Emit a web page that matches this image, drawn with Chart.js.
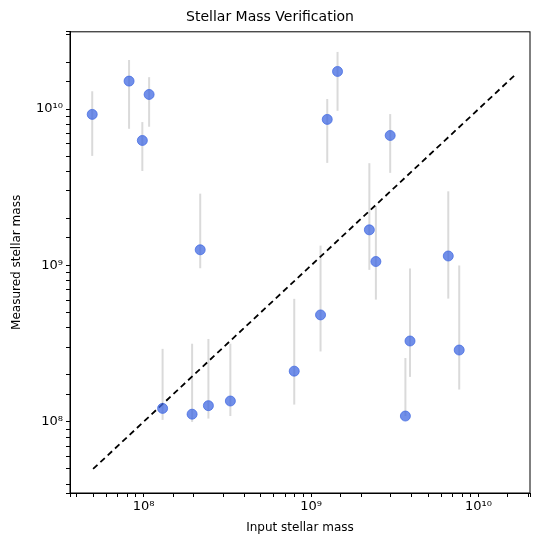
<!DOCTYPE html>
<html><head><meta charset="utf-8">
<script src="https://cdn.jsdelivr.net/npm/chart.js@4/dist/chart.umd.min.js"></script>
<style>html,body{margin:0;padding:0;background:#fff}#wrap{width:545px;height:549px}</style>
</head><body><div id="wrap"><canvas id="c"></canvas></div>
<script>
const inputMass = [4.94e7,8.2e7,1.08e8,9.84e7,2.18e8,1.44e9,1.25e9,2.97e9,2.23e9,2.44e9,6.6e9,1.30e8,1.95e8,2.44e8,3.30e8,7.94e8,1.14e9,3.90e9,3.66e9,7.67e9];
const measuredMass = [9.25e9,1.51e10,1.24e10,6.30e9,1.26e9,1.74e10,8.59e9,6.78e9,1.69e9,1.06e9,1.15e9,1.22e8,1.12e8,1.27e8,1.36e8,2.11e8,4.83e8,3.29e8,1.09e8,2.88e8];
const errHigh = [1.30e10,2.06e10,1.60e10,8.26e9,2.88e9,2.32e10,1.16e10,9.29e9,4.51e9,2.40e9,2.98e9,2.93e8,3.16e8,3.39e8,3.16e8,6.12e8,1.34e9,9.57e8,2.56e8,1.0e9];
const errLow = [5.02e9,7.48e9,7.71e9,4.02e9,9.6e8,9.75e9,4.53e9,3.91e9,9.38e8,6.05e8,6.14e8,1.03e8,1.0e8,1.05e8,1.09e8,1.29e8,2.82e8,1.94e8,1.09e8,1.61e8];
const oneToOne = [5e7,1.65e10];

const supers = {'0':'⁰','1':'¹','2':'²','3':'³','4':'⁴','5':'⁵','6':'⁶','7':'⁷','8':'⁸','9':'⁹'};
function powLabel(v){const l=Math.log10(v);const r=Math.round(l);if(Math.abs(l-r)<1e-6){return '10'+String(r).split('').map(c=>supers[c]).join('');}return '';}

const errPlugin={id:'err',beforeDatasetsDraw(chart){const {ctx,scales:{x,y}}=chart;ctx.save();ctx.strokeStyle='rgba(211,211,211,0.85)';ctx.lineWidth=2;
for(let i=0;i<inputMass.length;i++){const px=x.getPixelForValue(inputMass[i]);ctx.beginPath();ctx.moveTo(px,y.getPixelForValue(errHigh[i]));ctx.lineTo(px,y.getPixelForValue(errLow[i]));ctx.stroke();}ctx.restore();},
afterDraw(chart){const a=chart.chartArea,ctx=chart.ctx;ctx.save();ctx.strokeStyle='#000';ctx.lineWidth=1;ctx.strokeRect(a.left,a.top,a.right-a.left,a.bottom-a.top);ctx.restore();}};

new Chart(document.getElementById('c'),{
 type:'scatter',
 data:{datasets:[
  {type:'line',data:oneToOne.map(v=>({x:v,y:v})),borderColor:'#000',borderWidth:1.8,borderDash:[6,4],pointRadius:0,fill:false,order:2},
  {data:inputMass.map((v,i)=>({x:v,y:measuredMass[i]})),backgroundColor:'rgba(65,105,225,0.75)',borderColor:'rgba(65,105,225,0.75)',pointRadius:5,pointHoverRadius:5,order:1}
 ]},
 options:{responsive:true,maintainAspectRatio:false,animation:false,
  layout:{padding:{left:10,right:15,top:0,bottom:14}},
  plugins:{legend:{display:false},tooltip:{enabled:false},
   title:{display:true,text:'Stellar Mass Verification',color:'#000',font:{family:'DejaVu Sans',size:14,weight:'normal'},padding:{top:9,bottom:6}}},
  scales:{
   x:{type:'logarithmic',min:3.64e7,max:2.03e10,
    grid:{drawOnChartArea:false,color:'#000',tickLength:4},border:{color:'#000'},
    ticks:{autoSkip:false,maxRotation:0,color:'#000',font:{family:'DejaVu Sans',size:13},callback:(v)=>powLabel(v),padding:2},
    title:{display:true,text:'Input stellar mass',color:'#000',font:{family:'DejaVu Sans',size:12},padding:{top:4,bottom:0}}},
   y:{type:'logarithmic',min:3.51e7,max:3.12e10,
    grid:{drawOnChartArea:false,color:'#000',tickLength:4},border:{color:'#000'},
    ticks:{autoSkip:false,color:'#000',font:{family:'DejaVu Sans',size:13},callback:(v)=>powLabel(v),padding:3},
    title:{display:true,text:'Measured stellar mass',color:'#000',font:{family:'DejaVu Sans',size:12},padding:{top:0,bottom:6}},
    afterFit(s){s.width=60;}}
  }},
 plugins:[errPlugin]
});
</script></body></html>
